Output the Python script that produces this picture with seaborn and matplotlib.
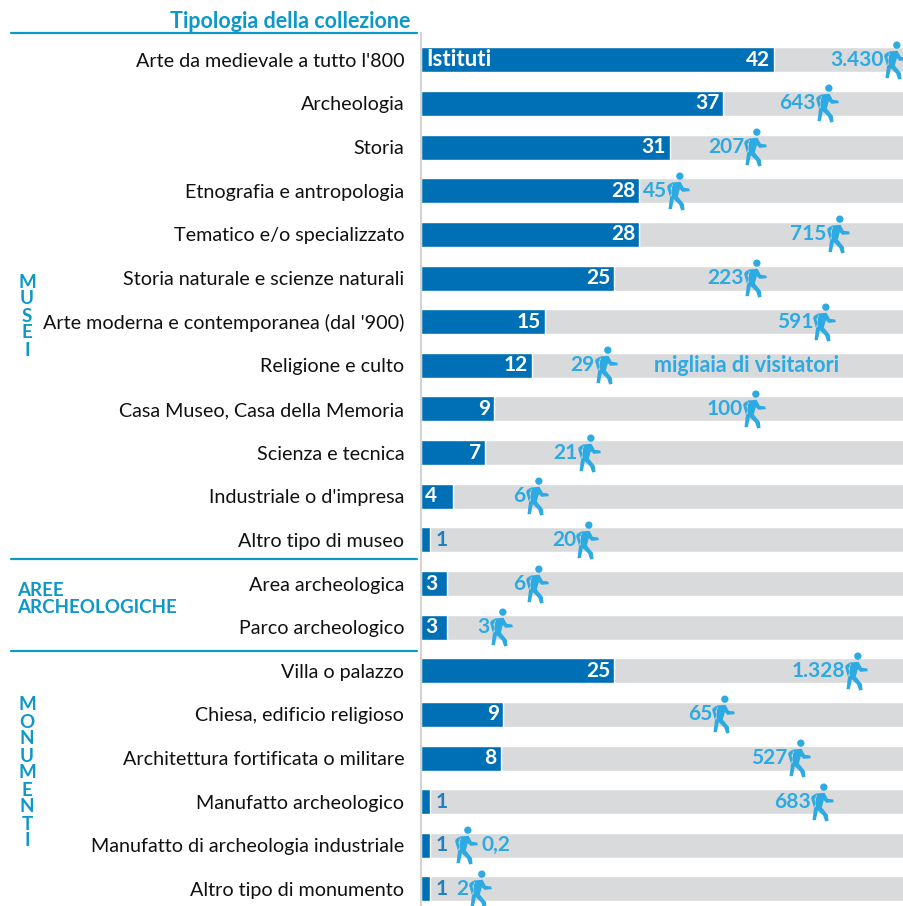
import numpy as np
import pandas as pd
import matplotlib
matplotlib.use('Agg')
import matplotlib.pyplot as plt
from matplotlib.lines import Line2D
from matplotlib.path import Path
import seaborn as sns

# Data
tipologie = ["Arte da medievale a tutto l'800", 'Archeologia', 'Storia', 'Etnografia e antropologia',
             'Tematico e/o specializzato', 'Storia naturale e scienze naturali',
             "Arte moderna e contemporanea (dal '900)", 'Religione e culto',
             'Casa Museo, Casa della Memoria', 'Scienza e tecnica', "Industriale o d'impresa",
             'Altro tipo di museo', 'Area archeologica', 'Parco archeologico', 'Villa o palazzo',
             'Chiesa, edificio religioso', 'Architettura fortificata o militare',
             'Manufatto archeologico', 'Manufatto di archeologia industriale', 'Altro tipo di monumento']
istituti = [42, 37, 31, 28, 28, 25, 15, 12, 9, 7, 4, 1, 3, 3, 25, 9, 8, 1, 1, 1]
# drawn length of each bar, not quite proportional to the printed number
bar_len = [42, 36, 29.6, 26, 26, 23, 14.8, 13.2, 8.7, 7.6, 3.8, 1.1, 3.1, 3.1, 23, 9.8, 9.5, 1.1, 1.1, 1.1]
visitatori = ['3.430', '643', '207', '45', '715', '223', '591', '29', '100', '21', '6', '20', '6', '3',
              '1.328', '65', '527', '683', '0,2', '2']
# where the walking figure stands along the bar
visit_pos = [56.4, 48.3, 39.8, 30.6, 49.6, 39.8, 48, 22, 39.6, 20, 13.8, 19.8, 13.8, 9.5,
             51.8, 36, 45, 47.7, 5.4, 7]
x_max = 57.5

BLUE = '#0070B6'
GREY = '#D9DADC'
SKY = '#2DAAE1'
HEAD = '#0C98C9'

W, H = 904, 906

sns.set_style('white')
plt.rcParams['font.family'] = ['Lato', 'DejaVu Sans']

df = pd.DataFrame({'tipologia': tipologie, 'len': bar_len, 'pos': visit_pos, 'fondo': x_max})

# walking person marker (offsets from the middle of the icon, y up)
body = [(-20, 27), (6, 29), (16, 11), (32, 9), (34, 1), (12, -1), (4, 7), (-2, -15), (16, -37), (18, -55),
        (8, -57), (2, -39), (-14, -23), (-20, -53), (-30, -53), (-26, -21), (-20, 7)]
arm = [(-20, 27), (-32, 19), (-34, 13), (-26, -15), (-20, -13), (-24, 11), (-17, 17)]
head = Path.circle((4, 46), 11)
walker = Path.make_compound_path(head, Path(body + body[:1], closed=True), Path(arm + arm[:1], closed=True))

fig = plt.figure(figsize=(W / 100, H / 100), dpi=100)
ax = fig.add_axes([421 / W, 0, (W - 421) / W, (H - 33) / H])

sns.barplot(data=df, x='fondo', y='tipologia', color=GREY, saturation=1, width=0.573, orient='y', ax=ax)
sns.barplot(data=df, x='len', y='tipologia', color=BLUE, saturation=1, width=0.573, orient='y', ax=ax)
sns.scatterplot(data=df, x='pos', y='tipologia', marker=walker, s=750, color=SKY, linewidth=0,
                clip_on=False, zorder=4, legend=False, ax=ax)

ax.set_xlim(0, x_max)
ax.set_ylim(19.39, -0.615)
ax.set_xlabel('')
ax.set_ylabel('')
ax.set_xticks([])
ax.tick_params(axis='y', length=0, pad=12, labelsize=14.2, labelcolor='#111111')
for side in ['top', 'right', 'bottom']:
    ax.spines[side].set_visible(False)
ax.spines['left'].set_color('#D4D4D2')
ax.spines['left'].set_linewidth(1.5)

# number of institutes
for i, (n, l) in enumerate(zip(istituti, bar_len)):
    if n == 1:
        ax.annotate(str(n), (l, i), xytext=(4, 0), textcoords='offset points', ha='left', va='center',
                    fontsize=15, fontweight='bold', color='#1F7FC0')
    elif n < 5:
        ax.annotate(str(n), (0, i), xytext=(3, 0), textcoords='offset points', ha='left', va='center',
                    fontsize=15, fontweight='bold', color='white')
    else:
        ax.annotate(str(n), (l, i), xytext=(-3, 0), textcoords='offset points', ha='right', va='center',
                    fontsize=15, fontweight='bold', color='white')

# visitors, written next to the walking figure
for i, (v, p) in enumerate(zip(visitatori, visit_pos)):
    right_side = v == '0,2'
    ax.annotate(v, (p, i), xytext=(11 if right_side else -8, 0), textcoords='offset points',
                ha='left' if right_side else 'right', va='center',
                fontsize=15, fontweight='bold', color=SKY, zorder=5)

ax.annotate('Istituti', (0, 0), xytext=(4, 0), textcoords='offset points', ha='left', va='center',
            fontsize=16, fontweight='bold', color='white')
ax.annotate('migliaia di visitatori', (27.7, 7), ha='left', va='center',
            fontsize=15.5, fontweight='bold', color=SKY)

# header, group rules and group names
fig.text(410 / W, 1 - 21 / H, 'Tipologia della collezione', ha='right', va='center',
         fontsize=15.5, fontweight='bold', color=HEAD)
for y in [33, 559, 651]:
    fig.add_artist(Line2D([11 / W, 417 / W], [1 - y / H, 1 - y / H], color=HEAD, linewidth=1.6))

stack = dict(ha='center', va='center', fontsize=13.5, fontweight='bold', color=HEAD, linespacing=1.0)
fig.text(27 / W, 1 - 316 / H, '\n'.join('MUSEI'), **stack)
fig.text(27 / W, 1 - 773 / H, '\n'.join('MONUMENTI'), **stack)
fig.text(17 / W, 1 - 599 / H, 'AREE\nARCHEOLOGICHE', ha='left', va='center', fontsize=13.5,
         fontweight='bold', color=HEAD, linespacing=0.95)

plt.savefig('out.png', dpi=100)
